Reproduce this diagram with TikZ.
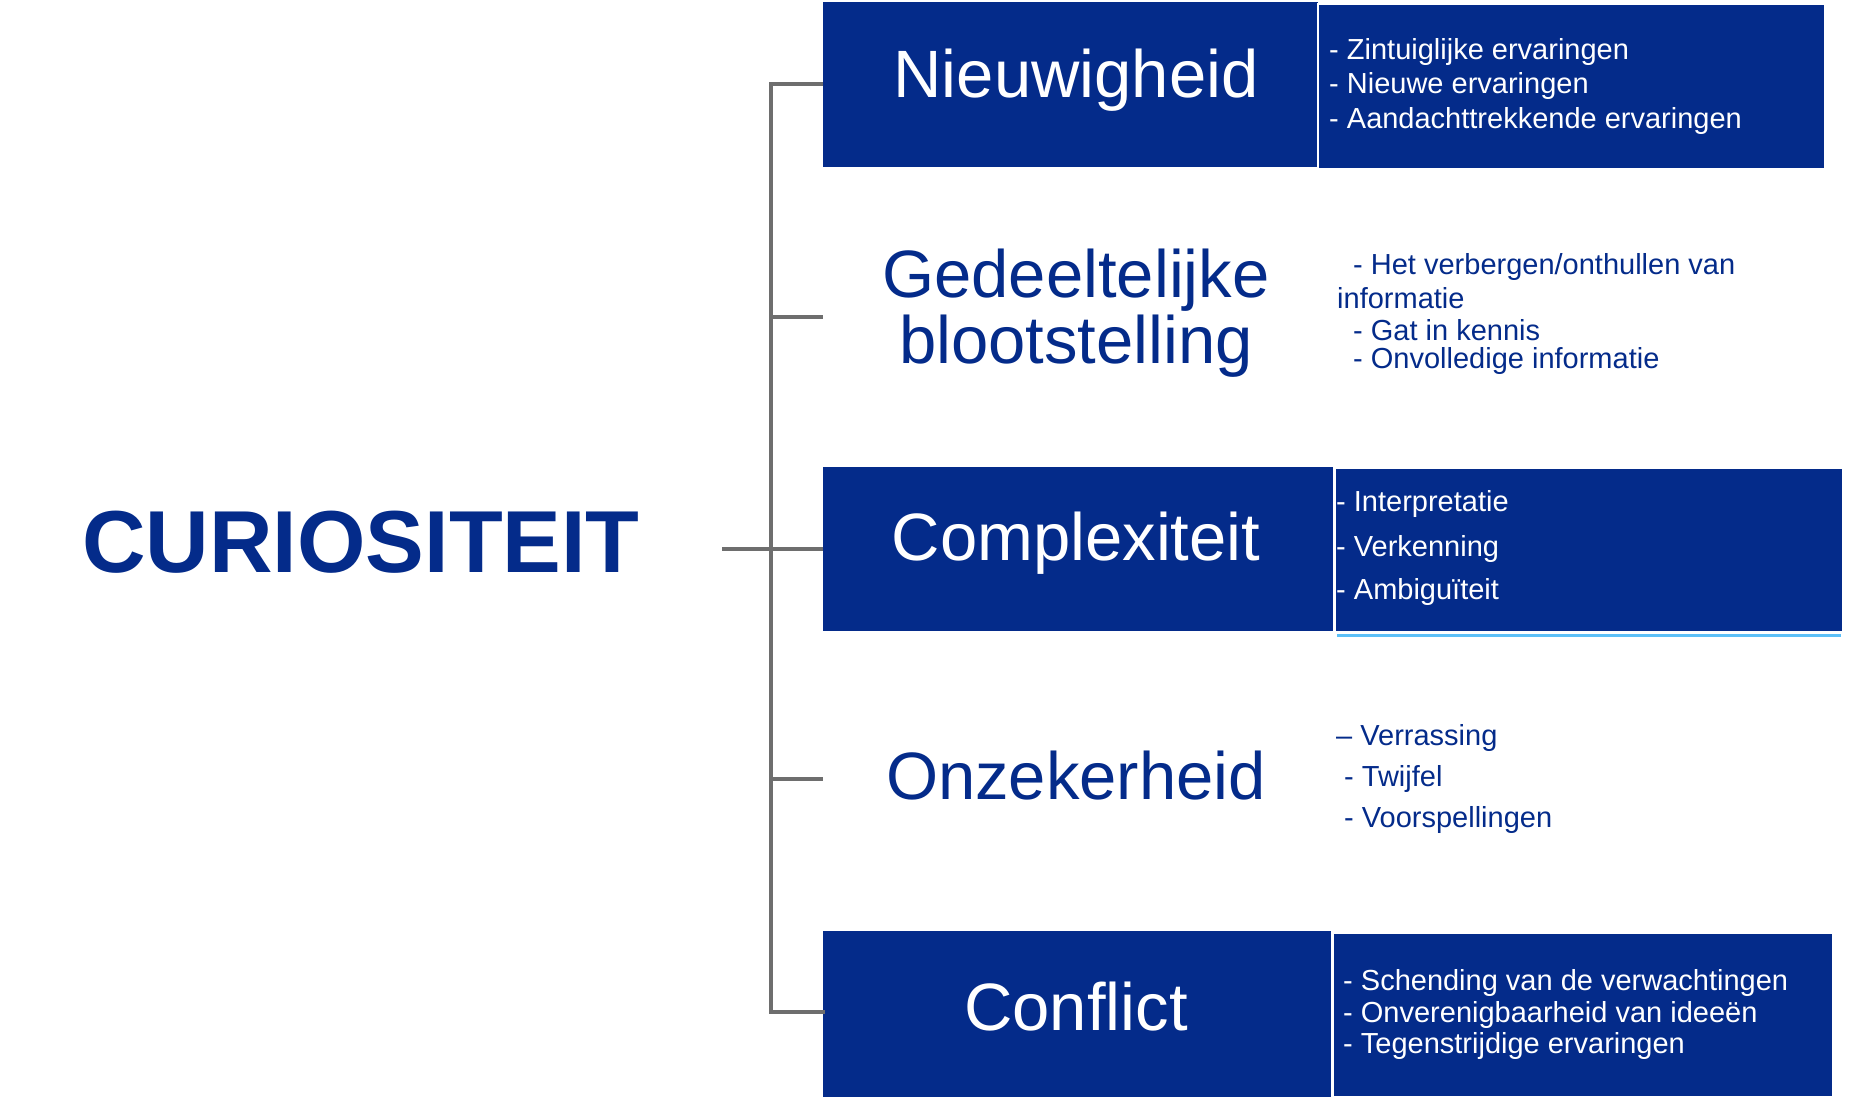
\documentclass[tikz,border=0pt]{standalone}
\usepackage{fontspec}
\setmainfont{Liberation Sans}
\definecolor{navy}{HTML}{042B8A}
\definecolor{grey}{HTML}{6E6E6E}
\definecolor{sky}{HTML}{5BC0F8}
\begin{document}
\begin{tikzpicture}[x=1pt,y=-1pt,
  box/.style={fill=navy,draw=none},
  rbox/.style={fill=navy,draw=white,line width=1.5pt},
  title/.style={font=\fontsize{67}{70}\selectfont,align=center,inner sep=0},
  item/.style={font=\fontsize{29}{32}\selectfont,anchor=west,inner sep=0},
  conn/.style={draw=grey,line width=3.5pt}]
\useasboundingbox (0,0) rectangle (1865,1097);
% boxes
\fill[navy] (823,2) rectangle (1318,167);
\draw[rbox] (1318,4) rectangle (1825,169);
\fill[navy] (823,467) rectangle (1333,631);
\draw[rbox] (1335,468) rectangle (1843,632);
\draw[sky,line width=3pt] (1337,635) -- (1841,635);
\fill[navy] (823,931) rectangle (1331,1097);
\draw[rbox] (1333,933) rectangle (1833,1097);
% root
\node[font=\fontsize{88}{90}\selectfont\bfseries,text=navy,inner sep=0] (root) at (361,542) {CURIOSITEIT};
\coordinate (j) at (771,549);
\coordinate (r) at (722,549);
% titles
\node[title,text=white] (t1) at (1076,80) {Nieuwigheid};
\node[title,text=navy] (t2) at (1076,313) {Gedeeltelijke\\[-4pt]blootstelling};
\node[title,text=white] (t3) at (1076,543) {Complexiteit};
\node[title,text=navy] (t4) at (1076,776) {Onzekerheid};
\node[title,text=white] (t5) at (1076,1007) {Conflict};
% connectors
\coordinate (c1) at (823,84);
\coordinate (c2) at (823,317);
\coordinate (c3) at (823,549);
\coordinate (c4) at (823,779);
\coordinate (c5) at (823,1012);
\draw[conn] (771,84) -- (c1);
\draw[conn] (771,317) -- (c2);
\draw[conn] (r) -- (c3);
\draw[conn] (771,779) -- (c4);
\draw[conn,line cap=rect] (c1 -| j) -- (c5 -| j) -- (c5);
% items
\begin{scope}[text=white]
\node[item,white] (a1) at (1329,52) {- Zintuiglijke ervaringen};
\node[item,white] (a2) at (1329,86) {- Nieuwe ervaringen};
\node[item,white] (a3) at (1329,121) {- Aandachttrekkende ervaringen};
\node[item,white] (c1t) at (1336,504) {- Interpretatie};
\node[item,white] (c2t) at (1336,549) {- Verkenning};
\node[item,white] (c3t) at (1336,592) {- Ambiguïteit};
\node[item,white] (e1) at (1343,983) {- Schending van de verwachtingen};
\node[item,white] (e2) at (1343,1015) {- Onverenigbaarheid van ideeën};
\node[item,white] (e3) at (1343,1046) {- Tegenstrijdige ervaringen};
\end{scope}
\node[item,navy] (b1) at (1353,267) {- Het verbergen/onthullen van};
\node[item,navy] (b2) at (1337,298) {informatie};
\node[item,navy] (b3) at (1353,330) {- Gat in kennis};
\node[item,navy] (b4) at (1353,361) {- Onvolledige informatie};
\node[item,navy] (d1) at (1336,738) {-- Verrassing};
\node[item,navy] (d2) at (1344,779) {- Twijfel};
\node[item,navy] (d3) at (1344,820) {- Voorspellingen};
\end{tikzpicture}
\end{document}
